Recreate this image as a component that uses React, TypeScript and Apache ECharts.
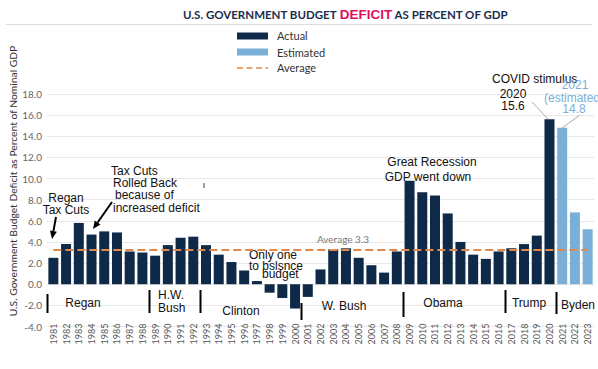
import React, { useEffect, useRef } from "react";
import * as echarts from "echarts";

const years: string[] = [];
for (let y = 1981; y <= 2023; y++) years.push(String(y));

const actualValues = [
  2.5, 3.8, 5.8, 4.7, 5.0, 4.9, 3.1, 3.0, 2.7, 3.7,
  4.4, 4.5, 3.7, 2.8, 2.1, 1.3, 0.3, -0.8, -1.3, -2.3,
  -1.2, 1.4, 3.3, 3.4, 2.5, 1.8, 1.1, 3.1, 9.8, 8.7,
  8.4, 6.7, 4.0, 2.8, 2.4, 3.1, 3.4, 3.8, 4.6, 15.6,
];
const estimatedValues = [14.8, 6.8, 5.2];
const averageValue = 3.3;
const termStarts = [1981, 1989, 1993, 2001, 2009, 2017, 2021];
const yTicks = { min: -4, max: 18, interval: 2 };

const NAVY = "#0e2a48";
const LIGHT = "#7ab0d7";
const ORANGE = "#e0894a";
const SANS = "'Liberation Sans', Arial, sans-serif";
const LATO = "Lato, 'Noto Sans', sans-serif";

export default function App() {
  const ref = useRef<HTMLDivElement>(null);
  useEffect(() => {
    document.body.style.margin = "0";
    const chart = echarts.init(ref.current!, null, { renderer: "svg" });
    const nA = actualValues.length;
    const actualData = years.map((_, i) => (i < nA ? actualValues[i] : "-"));
    const estData = years.map((_, i) => (i >= nA ? estimatedValues[i - nA] : "-"));
    chart.setOption({
      animation: false,
      backgroundColor: "#fff",
      grid: { left: 47, right: 4, top: 94, bottom: 42.5, containLabel: false },
      xAxis: {
        type: "category",
        data: years,
        axisLine: { show: false, onZero: false },
        axisTick: { show: false },
        axisLabel: {
          rotate: 90,
          fontSize: 9,
          color: "#555",
          fontFamily: LATO,
          margin: -3,
          interval: 0,
        },
      },
      yAxis: {
        type: "value",
        min: yTicks.min,
        max: yTicks.max,
        interval: yTicks.interval,
        axisLabel: {
          formatter: (v: number) => v.toFixed(1),
          fontSize: 10,
          color: "#666",
          fontFamily: LATO,
          margin: 5,
        },
        splitLine: { lineStyle: { color: "#e8e8e8", width: 1 } },
        axisLine: { show: false },
        axisTick: { show: false },
      },
      series: [
        {
          name: "Actual",
          type: "bar",
          data: actualData,
          barWidth: 10,
          barGap: "-100%",
          itemStyle: { color: NAVY },
          markLine: {
            silent: true,
            symbol: "none",
            label: { show: false },
            lineStyle: { color: ORANGE, type: [8, 4], width: 2 },
            data: [
              [
                { coord: [years[0], averageValue] },
                { coord: [years[years.length - 1], averageValue] },
              ],
            ],
          },
        },
        {
          name: "Estimated",
          type: "bar",
          data: estData,
          barWidth: 10,
          barGap: "-100%",
          itemStyle: { color: LIGHT },
        },
      ],
    });

    const xAt = (y: number) => chart.convertToPixel({ xAxisIndex: 0 }, String(y)) as number;
    const band = xAt(1982) - xAt(1981);
    const sepY: [number, number][] = [
      [294, 313], [290, 313], [290, 313], [303, 320], [292, 317], [290, 313], [292, 314],
    ];
    const g: any[] = [];
    const txt = (text: string, x: number, y: number, opts: any = {}) =>
      g.push({
        type: "text",
        x, y,
        style: {
          text,
          fontSize: 12,
          fontFamily: SANS,
          fill: "#111",
          textAlign: "center",
          textVerticalAlign: "middle",
          ...opts,
        },
      });
    const arrow = (x1: number, y1: number, x2: number, y2: number) => {
      const ang = Math.atan2(y2 - y1, x2 - x1);
      const L = 8, W = 3.5;
      const bx = x2 - L * Math.cos(ang), by = y2 - L * Math.sin(ang);
      g.push({ type: "line", shape: { x1, y1, x2: bx, y2: by }, style: { stroke: "#000", lineWidth: 2 } });
      g.push({
        type: "polygon",
        shape: {
          points: [
            [x2, y2],
            [bx + W * Math.sin(ang), by - W * Math.cos(ang)],
            [bx - W * Math.sin(ang), by + W * Math.cos(ang)],
          ],
        },
        style: { fill: "#000" },
      });
    };

    // title
    g.push({ type: "line", shape: { x1: 6, y1: 24.5, x2: 592, y2: 24.5 }, style: { stroke: "#dcdcdc", lineWidth: 1 } });
    g.push({
      type: "text",
      x: 183,
      y: 14,
      style: {
        text: "{a|U.S. GOVERNMENT BUDGET }{b|DEFICIT}{a| AS PERCENT OF GDP}",
        textVerticalAlign: "middle",
        rich: {
          a: { fontSize: 11.5, fontWeight: "bold", fontFamily: LATO, fill: "#1b2d4d", color: "#1b2d4d" },
          b: { fontSize: 13.5, fontWeight: "bold", fontFamily: SANS, fill: "#e0115f", color: "#e0115f" },
        },
      },
    });
    // legend
    g.push({ type: "rect", shape: { x: 237, y: 32.5, width: 31, height: 7 }, style: { fill: NAVY } });
    g.push({ type: "rect", shape: { x: 237, y: 48.5, width: 31, height: 7 }, style: { fill: LIGHT } });
    g.push({ type: "line", shape: { x1: 237, y1: 68, x2: 268, y2: 68 }, style: { stroke: ORANGE, lineWidth: 1.5, lineDash: [6, 3.5] } });
    txt("Actual", 277, 35.5, { textAlign: "left", fontFamily: LATO, fontSize: 11, fill: "#333" });
    txt("Estimated", 277, 52, { textAlign: "left", fontFamily: LATO, fontSize: 11, fill: "#333" });
    txt("Average", 277, 67.5, { textAlign: "left", fontFamily: LATO, fontSize: 11, fill: "#333" });

    // y axis name
    g.push({
      type: "text",
      x: 13,
      y: 181,
      rotation: Math.PI / 2,
      style: {
        text: "U.S. Government Budget Deficit as Percent of Nominal GDP",
        fontSize: 10.3,
        fontFamily: LATO,
        fill: "#333",
        textAlign: "center",
        textVerticalAlign: "middle",
      },
    });

    // average label
    txt("Average 3.3", 343, 239, { fontFamily: LATO, fontSize: 10, fill: "#777" });

    // annotations
    txt("Regan", 66, 198);
    txt("Tax Cuts", 66, 210);
    arrow(56, 217, 52, 239);
    txt("Tax Cuts", 111, 171, { textAlign: "left" });
    txt("Rolled Back", 113, 183, { textAlign: "left" });
    txt("because of", 115, 195, { textAlign: "left" });
    txt("increased deficit", 113, 208, { textAlign: "left" });
    arrow(112, 202, 93, 229);
    g.push({ type: "line", shape: { x1: 204, y1: 183, x2: 204, y2: 188 }, style: { stroke: "#444", lineWidth: 1 } });

    txt("Only one", 249, 255, { textAlign: "left" });
    txt("to bslsnce", 249, 265.5, { textAlign: "left" });
    txt("budget", 262, 274, { textAlign: "left" });

    txt("Great Recession", 432, 162);
    txt("GDP went down", 428, 176.5);

    txt("COVID stimulus", 492, 78.5, { textAlign: "left" });
    txt("2020", 513, 93.5);
    txt("15.6", 513, 106);
    g.push({ type: "line", shape: { x1: 532, y1: 102, x2: 548, y2: 119 }, style: { stroke: "#aaa", lineWidth: 1 } });

    txt("2021", 575, 85, { fill: LIGHT });
    txt("(estimated)", 544, 97.5, { textAlign: "left", fill: LIGHT });
    txt("14.8", 574, 109, { fill: LIGHT });
    g.push({ type: "line", shape: { x1: 580, y1: 115, x2: 562, y2: 128 }, style: { stroke: "#aaa", lineWidth: 1 } });

    // presidency separators
    termStarts.forEach((yr, i) => {
      const x = Math.round(xAt(yr) - band / 2) + 0.5;
      const [ya, yb] = sepY[i];
      g.push({ type: "line", shape: { x1: x, y1: ya, x2: x, y2: yb }, style: { stroke: "#000", lineWidth: 2 } });
    });
    txt("Regan", 83, 303);
    txt("H.W.", 158, 295, { textAlign: "left" });
    txt("Bush", 158, 308, { textAlign: "left" });
    txt("Clinton", 241, 311);
    txt("W. Bush", 344, 305.5);
    txt("Obama", 443, 303);
    txt("Trump", 529, 303);
    txt("Byden", 578, 305);

    chart.setOption({ graphic: g });
    return () => chart.dispose();
  }, []);
  return (
    <div
      ref={ref}
      style={{ position: "fixed", left: 0, top: 0, width: 598, height: 369, background: "#fff" }}
    />
  );
}
